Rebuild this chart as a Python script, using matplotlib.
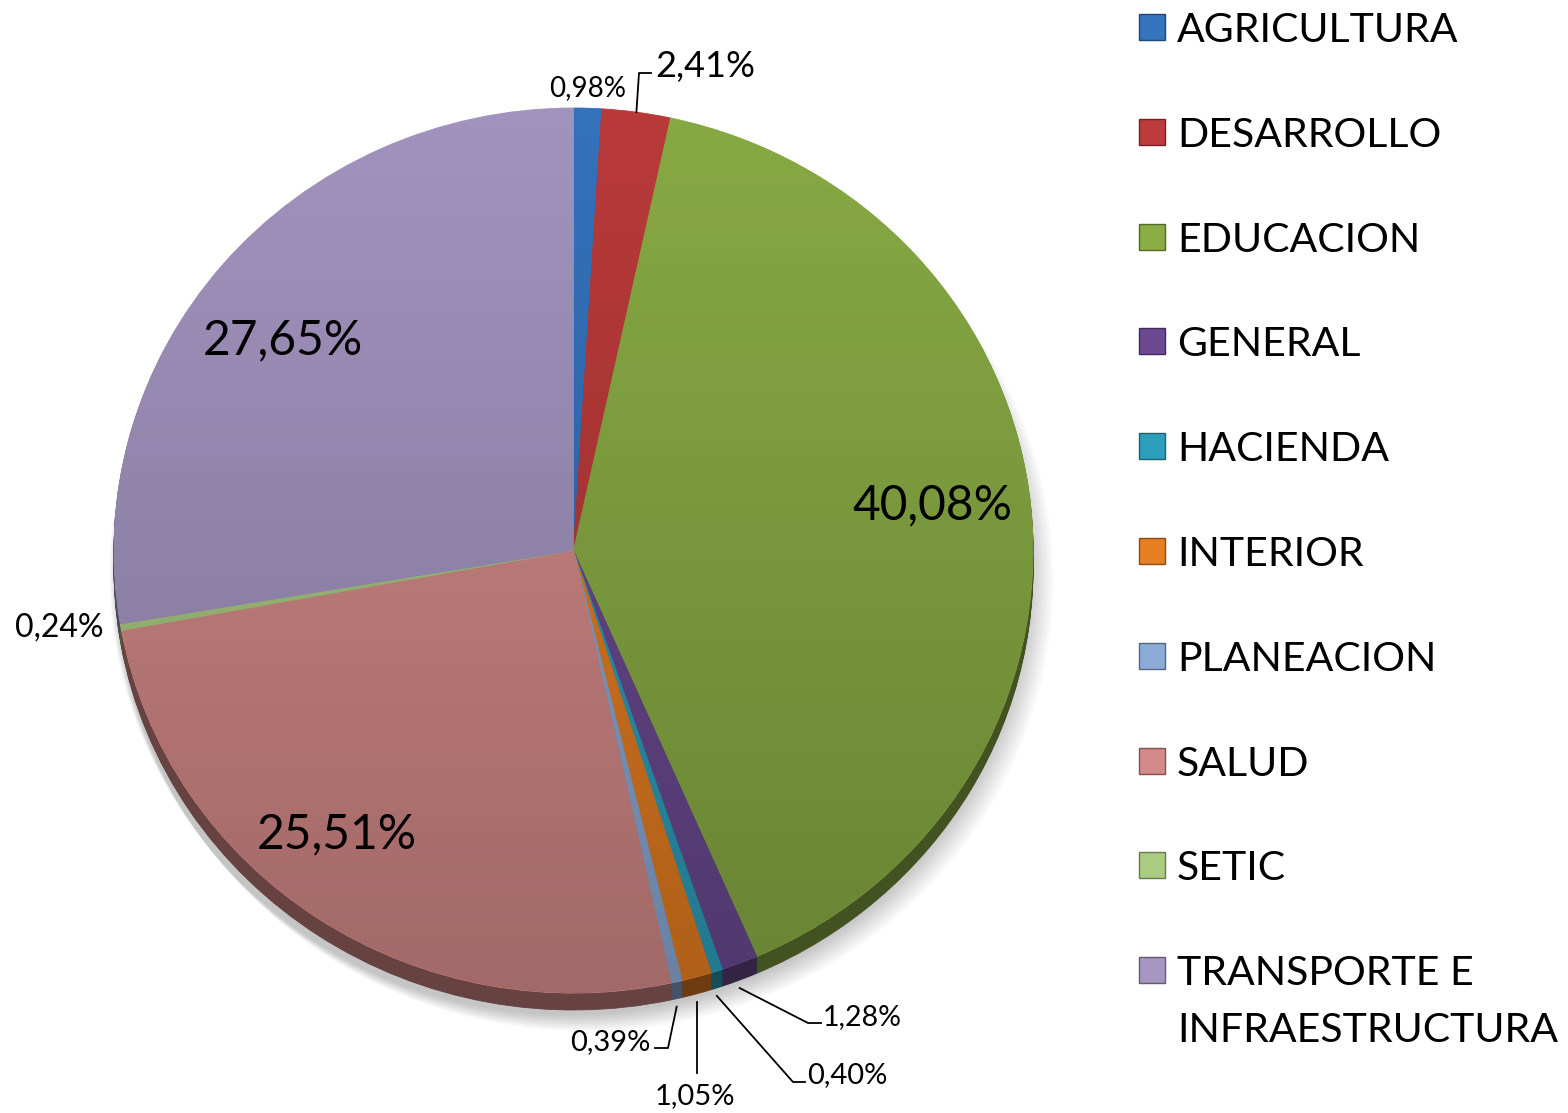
import numpy as np
import matplotlib
matplotlib.use("Agg")
import matplotlib.pyplot as plt
from matplotlib.patches import Circle, Rectangle
from matplotlib.colors import to_rgb

plt.rcParams['font.family'] = ['Lato', 'DejaVu Sans']

categories = ['AGRICULTURA', 'DESARROLLO', 'EDUCACION', 'GENERAL', 'HACIENDA',
              'INTERIOR', 'PLANEACION', 'SALUD', 'SETIC',
              'TRANSPORTE E\nINFRAESTRUCTURA']
values = [0.98, 2.41, 40.08, 1.28, 0.40, 1.05, 0.39, 25.51, 0.24, 27.65]
value_labels = ['0,98%', '2,41%', '40,08%', '1,28%', '0,40%', '1,05%',
                '0,39%', '25,51%', '0,24%', '27,65%']
colors = ['#3574bf', '#bd3b3b', '#8aad45', '#6b4a92', '#2d9fbc',
          '#e67e22', '#8caad6', '#d48a88', '#a9cb82', '#a596c2']

W, H = 1568, 1113
fig = plt.figure(figsize=(W / 100, H / 100), dpi=100)

# pie ellipse geometry in pixels
cx, cy, rx, ry = 573.5, 550.5, 459.5, 442.5
depth = 17
m = 1.2
ax = fig.add_axes([(cx - m * rx) / W, (H - cy - m * ry) / H,
                   2 * m * rx / W, 2 * m * ry / H])
ax.set_xlim(-m, m)
ax.set_ylim(-m, m)
ax.axis('off')

dy = depth / ry

# soft shadow
for i in range(10):
    sh = Circle((0.004 * i - 0.01, -dy - 0.012 - 0.002 * i), 1.0 + 0.002 * i,
                color='black', alpha=0.025, lw=0, zorder=0)
    ax.add_patch(sh)

# side (depth) of 3D pie
dark = [tuple(c * 0.48 for c in to_rgb(col)) for col in colors]
nsteps = 18
for k in range(nsteps, 0, -1):
    wd, _ = ax.pie(values, colors=dark, startangle=90, counterclock=False,
                   radius=1.0, center=(0, -dy * k / nsteps),
                   wedgeprops=dict(linewidth=0.6, edgecolor=None))
    for w in wd:
        w.set_edgecolor(w.get_facecolor())
        w.set_zorder(1)

# top face
wedges, _ = ax.pie(values, colors=colors, startangle=90, counterclock=False,
                   radius=1.0, center=(0, 0),
                   wedgeprops=dict(linewidth=0.6))
for w in wedges:
    w.set_edgecolor(w.get_facecolor())
    w.set_zorder(2)

ax.set_aspect('auto')
ax.set_xlim(-m, m)
ax.set_ylim(-m, m)

# shading gradient on top face (lighter at top, darker at bottom)
n = 256
grad = np.zeros((n, 1, 4))
t = np.linspace(0, 1, n)  # 0 top -> 1 bottom
grad[:, 0, 3] = 0.02 + 0.22 * t
im = ax.imshow(grad, extent=(-1, 1, -1, 1), aspect='auto', zorder=3,
               interpolation='bilinear')
im.set_clip_path(Circle((0, 0), 1.0, transform=ax.transData))
ax.set_xlim(-m, m)
ax.set_ylim(-m, m)

# overlay axes in pixel coordinates for labels
ov = fig.add_axes([0, 0, 1, 1])
ov.set_xlim(0, W)
ov.set_ylim(H, 0)
ov.axis('off')
ov.patch.set_alpha(0)

cum = np.cumsum([0] + values)
mids = 90 - (cum[:-1] + np.array(values) / 2) * 3.6


def edge(i, extra=0.0):
    th = np.deg2rad(mids[i])
    return cx + rx * np.cos(th), cy - ry * np.sin(th) + extra


lc = dict(color='black', lw=1.3)

# large inside labels
ov.text(932, 505, value_labels[2], fontsize=34.5, ha='center', va='center')
ov.text(283, 340, value_labels[9], fontsize=34.5, ha='center', va='center')
ov.text(337, 834, value_labels[7], fontsize=34.5, ha='center', va='center')

# AGRICULTURA
ov.text(588, 88, value_labels[0], fontsize=20, ha='center', va='center')
# DESARROLLO
x0, y0 = edge(1)
ov.plot([x0, 639, 651], [y0, 73, 73], **lc)
ov.text(655, 66, value_labels[1], fontsize=26, ha='left', va='center')
# SETIC
ov.text(59, 628, value_labels[8], fontsize=23, ha='center', va='center')
# GENERAL
x0, y0 = edge(3, depth + 8)
ov.plot([x0, 808, 821], [y0, 1023, 1023], **lc)
ov.text(823, 1017, value_labels[3], fontsize=20.5, ha='left', va='center')
# HACIENDA
x0, y0 = edge(4, depth + 8)
ov.plot([x0, 793, 805], [y0, 1082, 1082], **lc)
ov.text(807, 1075, value_labels[4], fontsize=21, ha='left', va='center')
# INTERIOR
x0, y0 = edge(5, depth + 8)
ov.plot([x0, x0], [y0, 1073], **lc)
ov.text(695, 1096, value_labels[5], fontsize=21, ha='center', va='center')
# PLANEACION
x0, y0 = edge(6, depth + 8)
ov.plot([x0, 668, 655], [y0, 1048, 1048], **lc)
ov.text(651, 1042, value_labels[6], fontsize=21, ha='right', va='center')

# legend
row0, step = 27, 104.8
for i, (name, col) in enumerate(zip(categories, colors)):
    yc = row0 + i * step
    ov.add_patch(Rectangle((1139, yc - 13), 26, 26, facecolor=col,
                           edgecolor=tuple(c * 0.6 for c in to_rgb(col)),
                           lw=1.0))
    lines = name.split('\n')
    for j, ln in enumerate(lines):
        ov.text(1177, yc + j * 57, ln, fontsize=29.5, ha='left',
                va='center_baseline')

fig.savefig('out.png', dpi=100)
